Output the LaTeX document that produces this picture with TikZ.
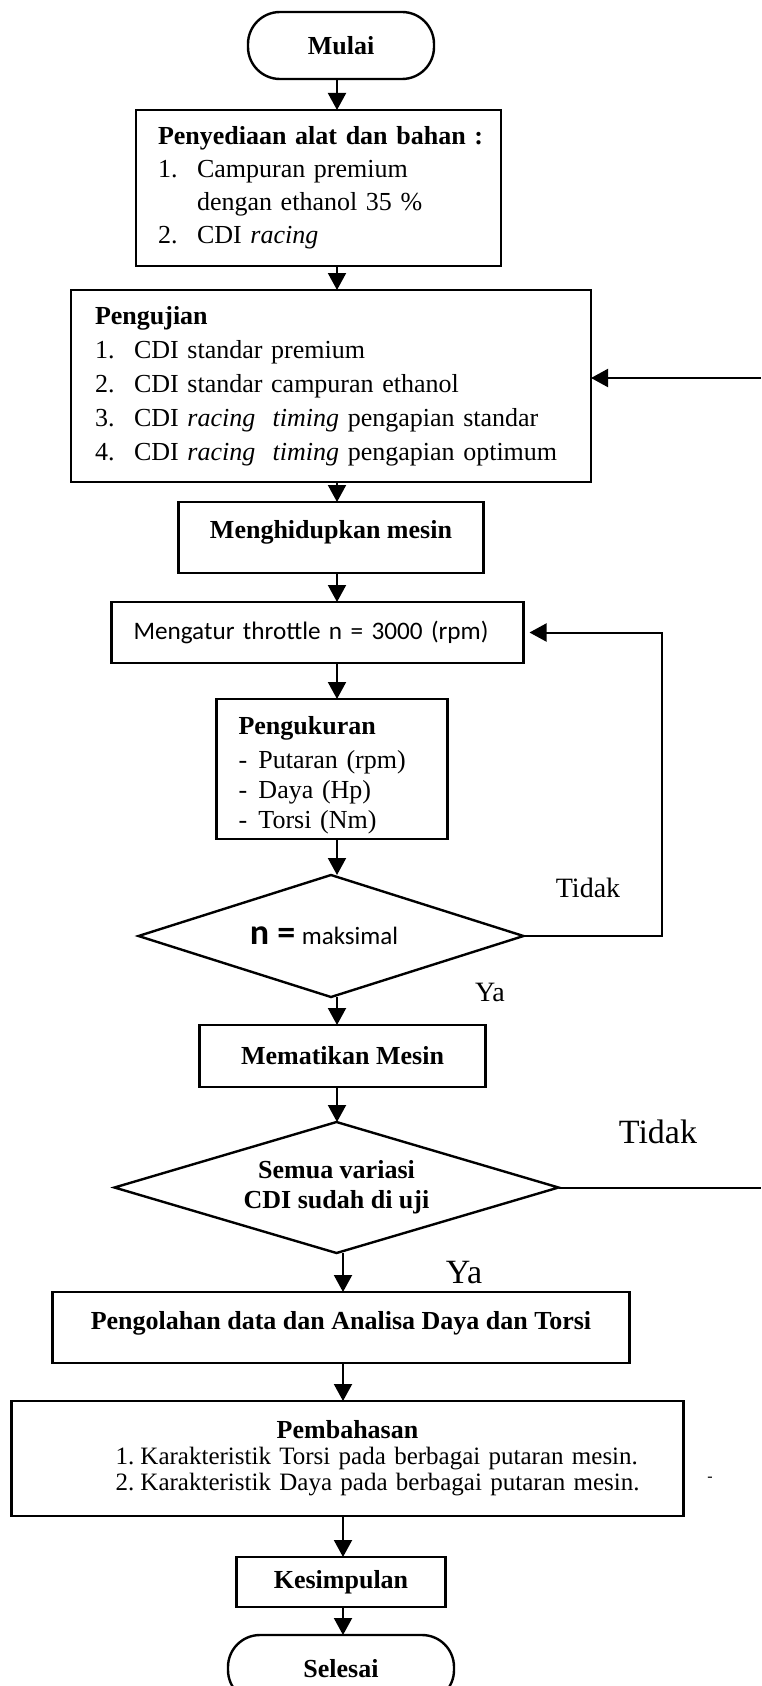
\documentclass[tikz,border=0pt]{standalone}
\usepackage{fontspec}
\setmainfont{Liberation Serif}
\newfontfamily\calibri{Carlito}
\usetikzlibrary{positioning}
\usetikzlibrary{shapes.geometric}
\usetikzlibrary{arrows.meta}

\newlength{\butirw}
\setlength{\butirw}{19.5pt}
\newcommand{\butir}[2]{\makebox[\butirw][l]{#1}#2}
\newcommand{\naik}[2]{\raisebox{#1}[\height][\depth]{#2}}

\begin{document}
\begin{tikzpicture}[x=0.5pt, y=-0.5pt,
	main/.style = {draw, line width=1.2pt, inner sep=0pt, outer sep=0pt, align=center, font=\fontsize{13}{16.5}\selectfont\bfseries},
	term/.style = {main, rounded corners=16pt},
	list/.style = {main, align=left, font=\fontsize{13}{16.5}\selectfont},
	dec/.style = {main, diamond, aspect=3.15},
	lbl/.style = {inner sep=0pt, font=\fontsize{14}{14}\selectfont},
	arr/.style = {line width=1pt, -{Triangle[length=8.5pt, width=9pt]}}]
	\path[use as bounding box, clip] (0,0) rectangle (761,1686);
	\coordinate (col) at (337,0);
	\coordinate (col2) at (343,0);
	\coordinate (tepi) at (761,0);

	\node[term, minimum width=93pt, minimum height=33.5pt] (1) at (341,45.5) {Mulai};
	\node[list, text width=160.5pt, inner xsep=11pt, minimum height=78pt] (2) [below=15.5pt of 1, xshift=-11.25pt]
		{\mbox{\textbf{Penyediaan alat dan bahan :}}\\
		\butir{1.}{Campuran premium}\\
		\hspace*{\butirw}dengan ethanol 35 \%\\
		\butir{2.}{CDI \textit{racing}}};
	\node[list, text width=236pt, inner xsep=12pt, minimum height=96pt, font=\fontsize{13}{17}\selectfont] (3) [below=12pt of 2, xshift=6.25pt]
		{\textbf{Pengujian}\\
		\butir{1.}{CDI standar premium}\\
		\butir{2.}{CDI standar campuran ethanol}\\
		\butir{3.}{CDI \textit{racing\ \ timing} pengapian standar}\\
		\butir{4.}{CDI \textit{racing\ \ timing} pengapian optimum}};
	\node[main, minimum width=152.5pt, minimum height=35.5pt] (4) [below=10pt of 3] {\naik{2.75pt}{Menghidupkan mesin}};
	\node[list, text width=184pt, inner xsep=11pt, minimum height=30.5pt, font=\calibri\fontsize{12.6}{14}\selectfont] (5) [below=14.5pt of 4, xshift=-6.75pt]
		{Mengatur throttle n = 3000 (rpm)};
	\node[list, text width=93.5pt, inner xsep=11pt, minimum height=70pt, font=\fontsize{13}{15}\selectfont] (6) [below=18pt of 5, xshift=7.25pt]
		{\rule{0pt}{15pt}\textbf{Pengukuran}\\[2pt]
		\makebox[10pt][l]{-}Putaran (rpm)\\
		\makebox[10pt][l]{-}Daya (Hp)\\
		\makebox[10pt][l]{-}Torsi (Nm)};
	\node[dec, minimum width=192.5pt, minimum height=61pt] (7) [below=18pt of 6, xshift=-0.5pt]
		{{\calibri\fontsize{18}{18}\selectfont n =} {\calibri\mdseries\fontsize{12.5}{12.5}\selectfont maksimal}\hspace{7pt}};
	\node[main, minimum width=143pt, minimum height=31pt] (8) [below=14pt of 7, xshift=5.75pt] {Mematikan Mesin};
	\node[dec, minimum width=222pt, minimum height=65.5pt, font=\fontsize{13}{15}\selectfont\bfseries] (9) [below=17.5pt of 8, xshift=-3pt]
		{Semua variasi\\CDI sudah di uji};
	\node[main, minimum width=288.5pt, minimum height=35.5pt] (10) [below=19.5pt of 9, xshift=2.25pt] {\naik{2.25pt}{Pengolahan data dan Analisa Daya dan Torsi}};
	\node[list, text width=328pt, inner xsep=4pt, minimum height=57.5pt, font=\fontsize{12.5}{13}\selectfont] (11) [below=19pt of 10, xshift=3.25pt]
		{\makebox[\linewidth]{\fontsize{13}{13}\selectfont\textbf{Pembahasan}}\\
		\hspace*{48pt}\makebox[12.5pt][l]{1.}Karakteristik Torsi pada berbagai putaran mesin.\\
		\hspace*{48pt}\makebox[12.5pt][l]{2.}Karakteristik Daya pada berbagai putaran mesin.};
	\node[main, minimum width=104.5pt, minimum height=25pt] (12) [below=20.5pt of 11, xshift=-3.25pt] {Kesimpulan};
	\node[term, minimum width=113pt, minimum height=33.5pt] (13) [below=14pt of 12] {Selesai};

	% label cabang
	\node[lbl] (t1) at ([shift={(64.5,-48)}]7.east) {Tidak};
	\node[lbl] (y1) at ([shift={(159,-4.5)}]7.south) {Ya};
	\node[lbl, font=\fontsize{17}{17}\selectfont] (t2) at ([shift={(99.5,-55.5)}]9.east) {Tidak};
	\node[lbl, font=\fontsize{17}{17}\selectfont] (y2) at ([shift={(127.5,20)}]9.south) {Ya};
	\node[lbl, font=\fontsize{8}{8}\selectfont] (s) at (710,1479) {-};

	\draw[arr] (1.south -| col) -- (2.north -| col);
	\draw[arr] (2.south -| col) -- (3.north -| col);
	\draw[arr] (3.south -| col) -- (4.north -| col);
	\draw[arr] (4.south -| col) -- (5.north -| col);
	\draw[arr] (5.south -| col) -- (6.north -| col);
	\draw[arr] (6.south -| col) -- (7.north -| col);
	\draw[arr] (7.south -| col) -- (8.north -| col);
	\draw[arr] (8.south -| col) -- (9.north -| col);
	\draw[arr] (9.south -| col2) -- (10.north -| col2);
	\draw[arr] (10.south -| col2) -- (11.north -| col2);
	\draw[arr] (11.south -| col2) -- (12.north -| col2);
	\draw[arr] (12.south -| col2) -- (13.north -| col2);

	% putaran balik
	\draw[arr, shorten >=3pt] (7.east) -- ++(138,0) |- (5.east);
	\coordinate (masuk) at ([yshift=4pt]3.east);
	\draw[line width=1pt] (9.east) -- (9.east -| tepi);
	\draw[arr] (masuk -| tepi) -- (masuk);
\end{tikzpicture}
\end{document}
